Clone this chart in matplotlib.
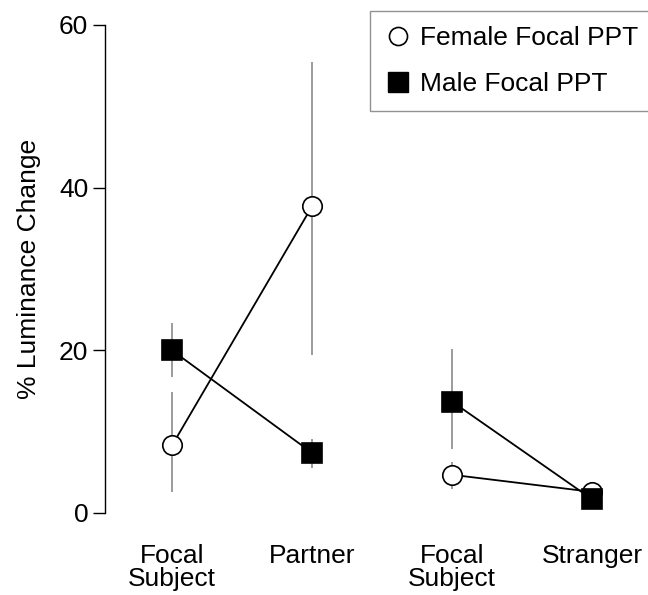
import matplotlib
matplotlib.use("Agg")
import matplotlib.pyplot as plt
from matplotlib.lines import Line2D

plt.rcParams['font.family'] = ['Liberation Sans', 'DejaVu Sans']

positions = [1, 2, 3, 4]
tick_labels = ["Focal\nSubject", "Partner", "Focal\nSubject", "Stranger"]

# means and error bar ends (% luminance change)
female_mean = [8.3, 37.7, 4.7, 2.6]
female_low = [2.6, 19.4, 3.0, 2.6]
female_high = [14.9, 55.4, 6.3, 2.6]
male_mean = [20.0, 7.4, 13.7, 1.7]
male_low = [16.7, 5.5, 7.9, 1.7]
male_high = [23.4, 9.1, 20.2, 1.7]

fig = plt.figure(figsize=(6.48, 5.95), dpi=100)
ax = fig.add_axes([105 / 648, 82 / 595, 543 / 648, 488 / 595])

series = [
    (female_mean, female_low, female_high, "o", "white"),
    (male_mean, male_low, male_high, "s", "black"),
]
for mean, low, high, marker, face in series:
    yerr = [[m - l for m, l in zip(mean, low)], [h - m for m, h in zip(mean, high)]]
    ax.errorbar(positions, mean, yerr=yerr, fmt="none", ecolor="#8a8a8a",
                elinewidth=1.2, capsize=0, zorder=1, clip_on=False)
    for seg in (slice(0, 2), slice(2, 4)):
        ax.plot(positions[seg], mean[seg], color="black", lw=1.3, zorder=2,
                clip_on=False)
    ax.plot(positions, mean, linestyle="none", marker=marker, markersize=14,
            markerfacecolor=face, markeredgecolor="black", markeredgewidth=1.2,
            zorder=3, clip_on=False)

ax.set_xlim(1 - 67 / 140, 1 + 476 / 140)
ax.set_ylim(0, 60)
ax.set_yticks([0, 20, 40, 60])
ax.set_xticks(positions)
ax.set_xticklabels(tick_labels, fontsize=19, linespacing=0.95, va="top")
ax.tick_params(axis="x", length=0, pad=22)
ax.tick_params(axis="y", length=9, width=1, labelsize=19, pad=3)

for side in ("top", "right", "bottom"):
    ax.spines[side].set_visible(False)
ax.spines["left"].set_linewidth(1.0)

fig.text(29 / 648, 1 - 269 / 595, "% Luminance Change", rotation=90,
         ha="center", va="center", fontsize=19)

handles = [
    Line2D([], [], linestyle="none", marker="o", markersize=13,
           markerfacecolor="white", markeredgecolor="black", markeredgewidth=1.2),
    Line2D([], [], linestyle="none", marker="s", markersize=14,
           markerfacecolor="black", markeredgecolor="black"),
]
leg = ax.legend(handles, ["Female Focal PPT", "Male Focal PPT"],
                loc="upper left", bbox_to_anchor=(370 / 648, 1 - 10.7 / 595),
                bbox_transform=fig.transFigure, borderaxespad=0, fontsize=19,
                frameon=True, fancybox=False, borderpad=0.59, labelspacing=0.82,
                handlelength=0.94, handletextpad=0.36)
leg.get_frame().set_edgecolor("#777777")
leg.get_frame().set_linewidth(1.0)

fig.savefig("out.png", dpi=100)
